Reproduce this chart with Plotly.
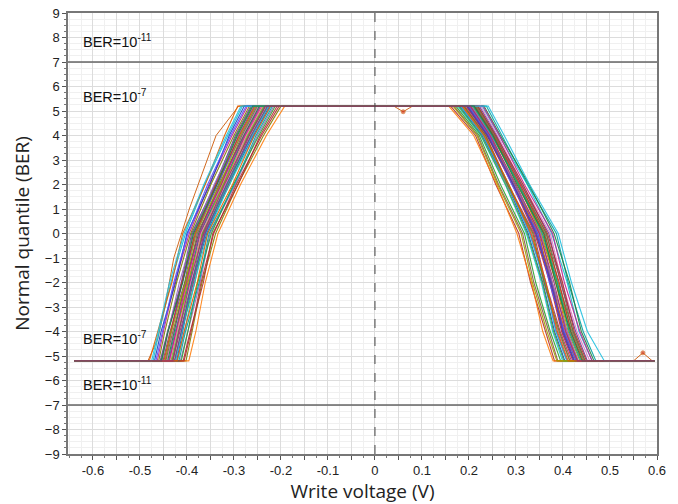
import plotly.graph_objects as go

# ---------------- data ----------------
# quantile levels at which each curve's voltage was read
LEFT_LEVELS = [-5.2, -4.0, -2.0, 0.0, 2.0, 4.0, 5.2]
RIGHT_LEVELS = [5.2, 4.0, 2.0, 0.0, -2.0, -4.0, -5.2]
PLATEAU_LOW = -5.2
X_START = -0.64
X_END = 0.595

# left branch: voltage where each curve leaves -5.2, and where it crosses -4, -2, 0, 2, 4, 5.2
LEFT_M52 = [-0.437, -0.455, -0.422, -0.443, -0.472, -0.414, -0.431, -0.451, -0.402, -0.439,
            -0.463, -0.427, -0.446, -0.408, -0.434, -0.457, -0.420, -0.480, -0.441, -0.430,
            -0.449, -0.412, -0.469, -0.436, -0.424, -0.453, -0.396, -0.445, -0.460, -0.417,
            -0.438, -0.432, -0.466, -0.406, -0.447, -0.426, -0.475, -0.421, -0.454, -0.430]
LEFT_M4 = [-0.423, -0.441, -0.409, -0.428, -0.459, -0.398, -0.418, -0.436, -0.389, -0.425,
           -0.450, -0.412, -0.433, -0.393, -0.421, -0.441, -0.405, -0.462, -0.427, -0.415,
           -0.434, -0.398, -0.455, -0.421, -0.410, -0.440, -0.381, -0.430, -0.447, -0.403,
           -0.423, -0.418, -0.452, -0.391, -0.433, -0.412, -0.461, -0.406, -0.440, -0.417]
LEFT_M2 = [-0.399, -0.410, -0.388, -0.398, -0.434, -0.372, -0.396, -0.405, -0.368, -0.395,
           -0.426, -0.383, -0.410, -0.365, -0.398, -0.412, -0.384, -0.432, -0.404, -0.386,
           -0.411, -0.377, -0.424, -0.392, -0.389, -0.416, -0.361, -0.401, -0.422, -0.374,
           -0.402, -0.389, -0.428, -0.370, -0.403, -0.390, -0.437, -0.378, -0.409, -0.394]
LEFT_0 = [-0.371, -0.388, -0.358, -0.377, -0.403, -0.351, -0.366, -0.384, -0.339, -0.373,
          -0.395, -0.362, -0.380, -0.345, -0.368, -0.390, -0.356, -0.409, -0.375, -0.364,
          -0.382, -0.348, -0.400, -0.370, -0.360, -0.386, -0.334, -0.378, -0.392, -0.353,
          -0.373, -0.367, -0.398, -0.343, -0.381, -0.361, -0.406, -0.356, -0.386, -0.365]
LEFT_2 = [-0.326, -0.338, -0.312, -0.325, -0.362, -0.297, -0.321, -0.333, -0.292, -0.322,
          -0.353, -0.309, -0.336, -0.291, -0.323, -0.340, -0.310, -0.361, -0.331, -0.312,
          -0.338, -0.301, -0.351, -0.318, -0.314, -0.342, -0.286, -0.327, -0.349, -0.299,
          -0.329, -0.315, -0.356, -0.295, -0.330, -0.316, -0.364, -0.303, -0.336, -0.320]
LEFT_4 = [-0.275, -0.295, -0.259, -0.281, -0.313, -0.250, -0.269, -0.290, -0.237, -0.278,
          -0.304, -0.264, -0.285, -0.244, -0.272, -0.297, -0.256, -0.320, -0.279, -0.267,
          -0.288, -0.247, -0.310, -0.274, -0.261, -0.292, -0.231, -0.283, -0.300, -0.253,
          -0.277, -0.270, -0.307, -0.241, -0.286, -0.263, -0.316, -0.257, -0.293, -0.268]
LEFT_52 = [-0.240, -0.262, -0.224, -0.248, -0.282, -0.215, -0.234, -0.257, -0.200, -0.244,
           -0.271, -0.229, -0.252, -0.208, -0.237, -0.264, -0.221, -0.292, -0.246, -0.232,
           -0.255, -0.212, -0.278, -0.239, -0.226, -0.259, -0.192, -0.250, -0.267, -0.218,
           -0.243, -0.235, -0.274, -0.204, -0.253, -0.228, -0.285, -0.222, -0.260, -0.233]

# right branch: voltage where each curve leaves 5.2, and where it crosses 4, 2, 0, -2, -4, -5.2
RIGHT_52 = [0.194, 0.218, 0.180, 0.204, 0.228, 0.188, 0.210, 0.168, 0.199, 0.237,
            0.184, 0.214, 0.197, 0.161, 0.207, 0.222, 0.176, 0.202, 0.232, 0.191,
            0.212, 0.172, 0.196, 0.225, 0.182, 0.205, 0.157, 0.216, 0.189, 0.209,
            0.230, 0.178, 0.200, 0.219, 0.166, 0.196, 0.241, 0.186, 0.211, 0.203]
RIGHT_4 = [0.238, 0.256, 0.228, 0.246, 0.264, 0.233, 0.250, 0.219, 0.242, 0.270,
           0.231, 0.253, 0.241, 0.214, 0.248, 0.259, 0.225, 0.244, 0.267, 0.236,
           0.252, 0.222, 0.239, 0.261, 0.230, 0.247, 0.210, 0.254, 0.235, 0.249,
           0.265, 0.226, 0.243, 0.257, 0.217, 0.240, 0.275, 0.232, 0.251, 0.245]
RIGHT_2 = [0.292, 0.307, 0.281, 0.296, 0.324, 0.280, 0.307, 0.263, 0.298, 0.325,
           0.284, 0.304, 0.296, 0.257, 0.305, 0.311, 0.277, 0.293, 0.328, 0.284,
           0.309, 0.267, 0.294, 0.314, 0.283, 0.296, 0.259, 0.312, 0.282, 0.306,
           0.318, 0.278, 0.291, 0.315, 0.261, 0.295, 0.329, 0.285, 0.302, 0.300]
RIGHT_0 = [0.340, 0.365, 0.326, 0.352, 0.376, 0.334, 0.357, 0.314, 0.346, 0.386,
           0.330, 0.362, 0.344, 0.306, 0.354, 0.370, 0.322, 0.349, 0.381, 0.338,
           0.360, 0.318, 0.342, 0.373, 0.329, 0.352, 0.302, 0.364, 0.336, 0.356,
           0.378, 0.324, 0.347, 0.367, 0.311, 0.343, 0.390, 0.332, 0.359, 0.350]
RIGHT_M2 = [0.372, 0.390, 0.357, 0.377, 0.409, 0.359, 0.389, 0.338, 0.377, 0.411,
            0.362, 0.387, 0.376, 0.331, 0.386, 0.395, 0.354, 0.373, 0.414, 0.363,
            0.392, 0.342, 0.374, 0.398, 0.361, 0.377, 0.333, 0.396, 0.360, 0.388,
            0.403, 0.356, 0.371, 0.399, 0.335, 0.375, 0.418, 0.364, 0.384, 0.381]
RIGHT_M4 = [0.397, 0.422, 0.382, 0.408, 0.434, 0.390, 0.414, 0.369, 0.402, 0.443,
            0.386, 0.419, 0.401, 0.362, 0.411, 0.427, 0.378, 0.405, 0.439, 0.394,
            0.417, 0.373, 0.399, 0.430, 0.385, 0.409, 0.357, 0.421, 0.392, 0.413,
            0.436, 0.380, 0.403, 0.424, 0.366, 0.400, 0.452, 0.388, 0.416, 0.406]
RIGHT_M52 = [0.421, 0.447, 0.404, 0.431, 0.462, 0.414, 0.440, 0.389, 0.428, 0.470,
             0.409, 0.445, 0.424, 0.382, 0.436, 0.452, 0.399, 0.430, 0.466, 0.418,
             0.443, 0.395, 0.423, 0.457, 0.408, 0.433, 0.379, 0.447, 0.415, 0.438,
             0.462, 0.402, 0.428, 0.450, 0.387, 0.425, 0.488, 0.411, 0.441, 0.431]

# one curve with a glitch on the top plateau and on the bottom plateau
GLITCH_X = [-0.64, -0.483, -0.462, -0.447, -0.428, -0.395, -0.338, -0.290, 0.04, 0.06, 0.08,
            0.213, 0.252, 0.305, 0.352, 0.385, 0.408, 0.432, 0.55, 0.57, 0.59, 0.595]
GLITCH_Y = [-5.2, -5.2, -4.3, -3.0, -1.0, 1.0, 4.0, 5.2, 5.2, 4.97, 5.2,
            5.2, 4.0, 2.0, 0.0, -2.0, -4.0, -5.2, -5.2, -4.87, -5.2, -5.2]

BER_LINES = [7, -7]
ANNOT_TEXT = ["BER=10<sup>-11</sup>", "BER=10<sup>-7</sup>", "BER=10<sup>-7</sup>", "BER=10<sup>-11</sup>"]
ANNOT_Y = [7.85, 5.6, -4.27, -6.15]

PALETTE = ["#d62728", "#2ca02c", "#1f3fbf", "#e377c2", "#17becf", "#9467bd", "#ff7f0e",
           "#8c564b", "#7f7f00", "#00a0a0", "#c02090", "#40b040", "#5050ff", "#b03030",
           "#a0a000", "#6a3d9a", "#20c0e0", "#e06000", "#208040", "#a03070"]

fig = go.Figure()

glitch_marker_sizes = [0] * len(GLITCH_X)
glitch_marker_sizes[9] = 4
glitch_marker_sizes[19] = 4
fig.add_trace(go.Scatter(x=GLITCH_X, y=GLITCH_Y, mode="lines+markers",
                         line=dict(color="#d2691e", width=1),
                         marker=dict(size=glitch_marker_sizes, color="#d2381e"),
                         showlegend=False, hoverinfo="skip"))

for i in range(len(LEFT_M52)):
    lx = [LEFT_M52[i], LEFT_M4[i], LEFT_M2[i], LEFT_0[i], LEFT_2[i], LEFT_4[i], LEFT_52[i]]
    rx = [RIGHT_52[i], RIGHT_4[i], RIGHT_2[i], RIGHT_0[i], RIGHT_M2[i], RIGHT_M4[i], RIGHT_M52[i]]
    xs = [X_START] + lx + rx + [X_END]
    ys = [PLATEAU_LOW] + [PLATEAU_LOW] + LEFT_LEVELS[1:] + RIGHT_LEVELS + [PLATEAU_LOW]
    fig.add_trace(go.Scatter(x=xs, y=ys, mode="lines",
                             line=dict(color=PALETTE[i % len(PALETTE)], width=1.1),
                             opacity=0.9, showlegend=False, hoverinfo="skip"))

for yv in BER_LINES:
    fig.add_hline(y=yv, line=dict(color="#666666", width=1.5))
fig.add_vline(x=0, line=dict(color="#444444", width=1, dash="dash"))

for t, yv in zip(ANNOT_TEXT, ANNOT_Y):
    fig.add_annotation(x=-0.626, y=yv, text=t, showarrow=False, xanchor="left", yanchor="middle",
                       font=dict(family="Liberation Sans, Arial", size=14.5, color="#111111"))

fig.update_layout(
    width=678, height=504,
    margin=dict(l=68, r=21, t=13, b=50),
    paper_bgcolor="white", plot_bgcolor="white",
    showlegend=False,
)

fig.update_xaxes(
    range=[-0.653, 0.6], automargin=False,
    tickvals=[-0.6, -0.55, -0.5, -0.45, -0.4, -0.35, -0.3, -0.25, -0.2, -0.15, -0.1, -0.05,
              0, 0.05, 0.1, 0.15, 0.2, 0.25, 0.3, 0.35, 0.4, 0.45, 0.5, 0.55, 0.6],
    ticktext=["-0.6", "", "-0.5", "", "-0.4", "", "-0.3", "", "-0.2", "", "-0.1", "",
              "0", "", "0.1", "", "0.2", "", "0.3", "", "0.4", "", "0.5", "", "0.6"],
    ticks="outside", ticklen=4, tickcolor="#555555",
    showgrid=True, gridcolor="#dcdcdc", gridwidth=1,
    minor=dict(dtick=0.025, tick0=0, showgrid=True, gridcolor="#f0f0f0", ticks="outside",
               ticklen=2, tickcolor="#777777"),
    showline=True, linecolor="#777777", linewidth=1.5, mirror=True,
    zeroline=False, ticklabeloverflow="allow",
    tickfont=dict(family="Liberation Sans, Arial", size=13, color="#222222"),
    title=dict(text="Write voltage (V)", standoff=8,
               font=dict(family="Open Sans, Noto Sans", size=19, color="#222222")),
)

fig.update_yaxes(
    range=[-9, 9], dtick=1, tick0=0, automargin=False,
    ticks="outside", ticklen=4, tickcolor="#555555",
    showgrid=True, gridcolor="#dcdcdc", gridwidth=1,
    minor=dict(dtick=0.25, tick0=0, showgrid=True, gridcolor="#f0f0f0", ticks="outside",
               ticklen=2, tickcolor="#777777"),
    showline=True, linecolor="#777777", linewidth=1.5, mirror=True,
    zeroline=False, ticklabeloverflow="allow",
    tickfont=dict(family="Liberation Sans, Arial", size=13, color="#222222"),
    title=dict(text="Normal quantile (BER)", standoff=10,
               font=dict(family="Open Sans, Noto Sans", size=19, color="#222222")),
)

fig.write_html("out.html", config={"displayModeBar": False},
               post_script="document.body.style.margin='0';document.body.style.overflow='hidden';")
